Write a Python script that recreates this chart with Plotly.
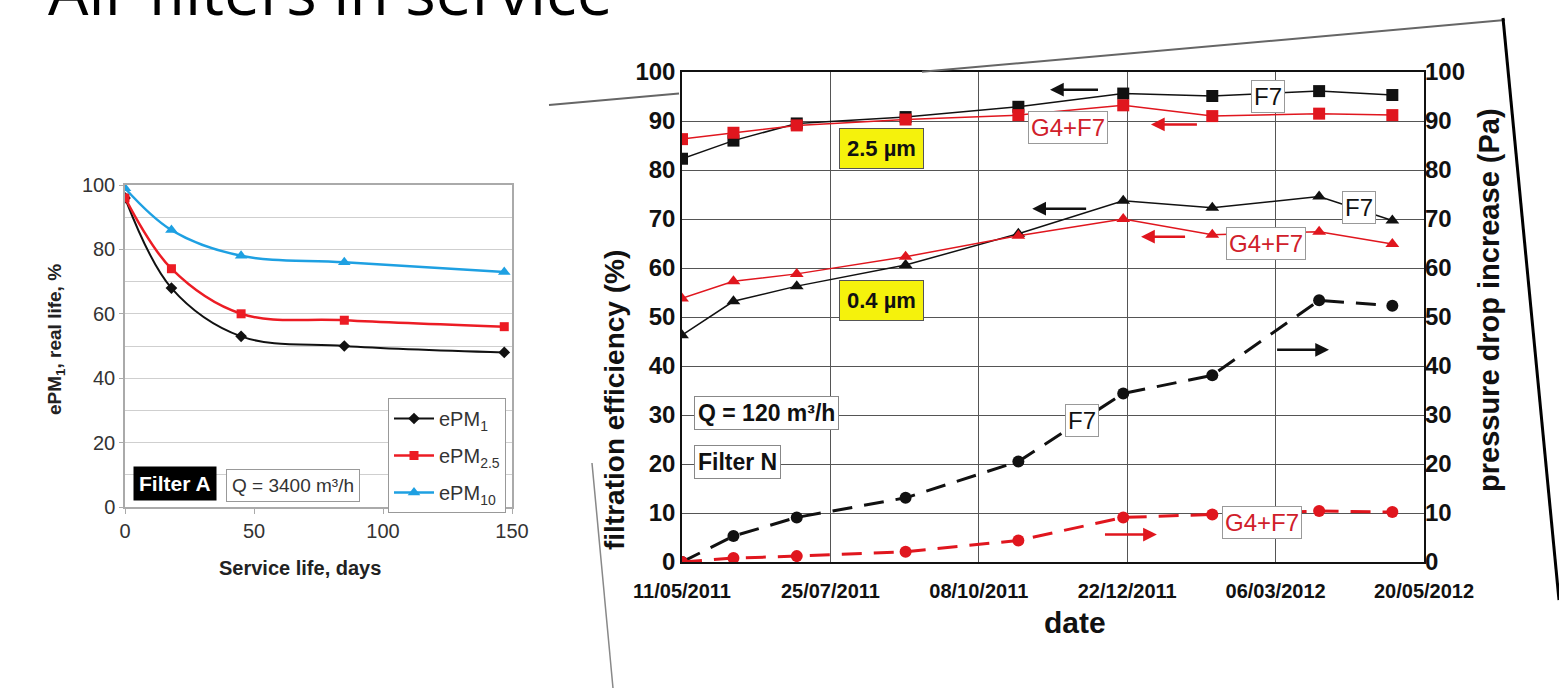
import plotly.graph_objects as go

W, H = 1559, 688
FONT = "Liberation Sans"

# ---------------- Left chart: Filter A ----------------
service_days = [0, 18, 45, 85, 147]
epm1 = [96, 68, 53, 50, 48]
epm25 = [96, 74, 60, 58, 56]
epm10 = [99, 86, 78, 76, 73]
left_xticks = [0, 50, 100, 150]

# ---------------- Right chart: Filter N ----------------
dates = ['2011-05-11', '2011-06-06', '2011-07-08', '2011-09-01', '2011-10-28',
         '2011-12-20', '2012-02-03', '2012-03-28', '2012-05-04']
f7_25 = [82.3, 86.0, 89.5, 90.8, 92.9, 95.6, 95.1, 96.1, 95.3]
g4f7_25 = [86.3, 87.6, 89.1, 90.3, 91.2, 93.2, 91.0, 91.5, 91.2]
f7_04 = [46.3, 53.2, 56.3, 60.6, 67.0, 73.7, 72.3, 74.6, 69.7]
g4f7_04 = [53.8, 57.3, 58.8, 62.3, 66.6, 70.0, 66.8, 67.4, 64.9]
f7_dp = [0, 5.3, 9.1, 13.1, 20.5, 34.4, 38.1, 53.4, 52.3]
g4f7_dp = [0, 0.8, 1.2, 2.1, 4.4, 9.1, 9.7, 10.4, 10.2]
date_ticks = ['2011-05-11', '2011-07-25', '2011-10-08', '2011-12-22', '2012-03-06', '2012-05-20']
date_ticktext = ['11/05/2011', '25/07/2011', '08/10/2011', '22/12/2011', '06/03/2012', '20/05/2012']

# labels on right chart: (text, date, value, axis, style)
right_labels = [
    ('2.5 µm', '2011-08-20', 84.3, 'y2', 'yellow'),
    ('0.4 µm', '2011-08-20', 53.3, 'y2', 'yellow'),
    ('F7', '2012-03-02', 95.1, 'y2', 'black'),
    ('G4+F7', '2011-11-22', 88.6, 'y2', 'red'),
    ('F7', '2012-04-17', 72.4, 'y2', 'black'),
    ('G4+F7', '2012-03-01', 65.0, 'y2', 'red'),
    ('F7', '2011-11-29', 28.8, 'y3', 'black'),
    ('G4+F7', '2012-02-28', 8.0, 'y3', 'red'),
]
# arrows: (head date, tail date, value, axis, colour)
right_arrows = [
    ('2011-11-13', '2011-12-08', 96.4, 'y2', '#111111'),
    ('2011-11-04', '2011-12-02', 72.1, 'y2', '#111111'),
    ('2012-01-03', '2012-01-27', 89.3, 'y2', '#e0161e'),
    ('2011-12-29', '2012-01-21', 66.4, 'y2', '#e0161e'),
    ('2012-04-02', '2012-03-06', 43.3, 'y3', '#111111'),
    ('2012-01-06', '2011-12-10', 5.6, 'y3', '#e0161e'),
]

BLACK = '#111111'
RED = '#e0161e'
LRED = '#ec1c24'
BLUE = '#1ea0e2'

fig = go.Figure()

# left chart traces
fig.add_trace(go.Scatter(x=service_days, y=epm1, mode='lines+markers', name='ePM<sub>1</sub>',
                         line=dict(color=BLACK, width=2, shape='spline'),
                         marker=dict(symbol='diamond', size=9, color=BLACK),
                         xaxis='x', yaxis='y', legendgroup='a'))
fig.add_trace(go.Scatter(x=service_days, y=epm25, mode='lines+markers', name='ePM<sub>2.5</sub>',
                         line=dict(color=LRED, width=2.5, shape='spline'),
                         marker=dict(symbol='square', size=9, color=LRED),
                         xaxis='x', yaxis='y', legendgroup='b'))
fig.add_trace(go.Scatter(x=service_days, y=epm10, mode='lines+markers', name='ePM<sub>10</sub>',
                         line=dict(color=BLUE, width=2.5, shape='spline'),
                         marker=dict(symbol='triangle-up', size=11, color=BLUE),
                         xaxis='x', yaxis='y', legendgroup='c'))

# right chart traces
def add_right(y, color, symbol, yaxis, dash='solid', width=1.5, size=12):
    fig.add_trace(go.Scatter(x=dates, y=y, mode='lines+markers', showlegend=False,
                             line=dict(color=color, width=width, dash=dash),
                             marker=dict(symbol=symbol, size=size, color=color),
                             xaxis='x2', yaxis=yaxis))

add_right(f7_25, BLACK, 'square', 'y2')
add_right(g4f7_25, RED, 'square', 'y2')
add_right(f7_04, BLACK, 'triangle-up', 'y2')
add_right(g4f7_04, RED, 'triangle-up', 'y2')
add_right(f7_dp, BLACK, 'circle', 'y3', dash='20px,12px', width=3)
add_right(g4f7_dp, RED, 'circle', 'y3', dash='20px,12px', width=3)

def px_x(p):
    return p / W

def px_y(p):
    return 1 - p / H

annotations = []
# slide title (partly cut off at the top, as in the slide)
annotations.append(dict(text='Air filters in service', xref='paper', yref='paper',
                        x=px_x(330), y=px_y(36), xanchor='center', yanchor='bottom',
                        showarrow=False, font=dict(family='Open Sans', size=64, color='black')))

# left chart labels
annotations.append(dict(text='<b>ePM<sub>1</sub>, real life, %</b>', xref='paper', yref='paper',
                        x=px_x(56), y=px_y(340), xanchor='center', yanchor='middle',
                        textangle=-90, showarrow=False,
                        font=dict(family=FONT, size=19, color='#222')))
annotations.append(dict(text='<b>Service life, days</b>', xref='paper', yref='paper',
                        x=px_x(300), y=px_y(568), xanchor='center', yanchor='middle',
                        showarrow=False, font=dict(family=FONT, size=20, color='#222')))
annotations.append(dict(text='<b>Filter A</b>', xref='x', yref='y', x=3, y=2, xanchor='left',
                        yanchor='bottom', showarrow=False, bgcolor='black', borderpad=5,
                        font=dict(family=FONT, size=21, color='white')))
annotations.append(dict(text='Q = 3400 m³/h', xref='x', yref='y', x=39, y=1.5, xanchor='left',
                        yanchor='bottom', showarrow=False, bgcolor='white', bordercolor='#999',
                        borderwidth=1, borderpad=5, font=dict(family=FONT, size=19, color='#333')))

# right chart axis titles
annotations.append(dict(text='<b>filtration efficiency (%)</b>', xref='paper', yref='paper',
                        x=px_x(614), y=px_y(400), xanchor='center', yanchor='middle',
                        textangle=-90, showarrow=False,
                        font=dict(family=FONT, size=28, color='#111')))
annotations.append(dict(text='<b>pressure drop increase (Pa)</b>', xref='paper', yref='paper',
                        x=px_x(1489), y=px_y(300), xanchor='center', yanchor='middle',
                        textangle=-90, showarrow=False,
                        font=dict(family=FONT, size=29, color='#111')))
annotations.append(dict(text='<b>date</b>', xref='paper', yref='paper',
                        x=px_x(1075), y=px_y(622), xanchor='center', yanchor='middle',
                        showarrow=False, font=dict(family=FONT, size=30, color='#111')))

# right chart boxes
annotations.append(dict(text='<b>Q = 120 m³/h</b>', xref='x2', yref='y2', x='2011-05-17', y=30.5,
                        xanchor='left', yanchor='middle', showarrow=False, bgcolor='white',
                        bordercolor='#888', borderwidth=1, borderpad=3,
                        font=dict(family=FONT, size=23, color='#111')))
annotations.append(dict(text='<b>Filter N</b>', xref='x2', yref='y2', x='2011-05-17', y=20.5,
                        xanchor='left', yanchor='middle', showarrow=False, bgcolor='white',
                        bordercolor='#888', borderwidth=1, borderpad=3,
                        font=dict(family=FONT, size=23, color='#111')))
for text, d, v, ax_, style in right_labels:
    if style == 'yellow':
        annotations.append(dict(text='<b>' + text + '</b>', xref='x2', yref=ax_, x=d, y=v,
                                xanchor='center', yanchor='middle',
                                showarrow=False, bgcolor='#f5f20c', bordercolor='#555',
                                borderwidth=1, borderpad=7,
                                font=dict(family=FONT, size=22, color='#111')))
    else:
        col = '#111' if style == 'black' else '#d0202a'
        annotations.append(dict(text=text, xref='x2', yref=ax_, x=d, y=v, showarrow=False,
                                xanchor='center', yanchor='middle',
                                bgcolor='white', bordercolor='#999', borderwidth=1, borderpad=2,
                                font=dict(family=FONT, size=24, color=col)))
for head, tail, v, ax_, col in right_arrows:
    annotations.append(dict(text='', xref='x2', yref=ax_, x=head, y=v, axref='x2', ayref=ax_,
                            ax=tail, ay=v, showarrow=True, arrowhead=2, arrowsize=1.1,
                            arrowwidth=2.5, arrowcolor=col, standoff=0, startstandoff=0))

# frame lines of the pasted picture (top edge split so it passes behind the chart)
shapes = [
    dict(type='line', xref='paper', yref='paper', x0=px_x(549), y0=px_y(105), x1=px_x(679),
         y1=px_y(93.4), line=dict(color='#666', width=2)),
    dict(type='line', xref='paper', yref='paper', x0=px_x(922), y0=px_y(71.8), x1=px_x(1505),
         y1=px_y(20), line=dict(color='#666', width=2)),
    dict(type='line', xref='paper', yref='paper', x0=px_x(1503), y0=px_y(18), x1=px_x(1559),
         y1=px_y(600), line=dict(color='black', width=3)),
    dict(type='line', xref='paper', yref='paper', x0=px_x(592), y0=px_y(463), x1=px_x(613),
         y1=0, line=dict(color='#888', width=1.5)),
]

tick_l = dict(family=FONT, size=20, color='#333')
tick_r = dict(family=FONT, size=24, color='#111', weight='bold')

fig.update_layout(
    width=W, height=H, margin=dict(l=0, r=0, t=0, b=0, autoexpand=False),
    paper_bgcolor='white', plot_bgcolor='white',
    annotations=annotations, shapes=shapes,
    legend=dict(x=px_x(388), y=px_y(398), xanchor='left', yanchor='top', bgcolor='white',
                bordercolor='#999', borderwidth=1, tracegroupgap=8, itemwidth=40,
                font=dict(family=FONT, size=20, color='#333')),
    xaxis=dict(domain=[px_x(125), px_x(512)], range=[0, 150], tickvals=left_xticks,
               showgrid=False, automargin=False,
               showline=True, linecolor='#aaa', linewidth=1.5, mirror=True, ticks='outside',
               ticklen=5, tickcolor='#aaa', tickfont=tick_l, zeroline=False, anchor='y'),
    yaxis=dict(domain=[px_y(507), px_y(185)], range=[0, 100], tick0=0, dtick=20,
               showgrid=True, gridcolor='#cfcfcf', automargin=False,
               minor=dict(dtick=10, showgrid=True, gridcolor='#cfcfcf'),
               showline=True, linecolor='#aaa', linewidth=1.5, mirror=True, ticks='outside',
               ticklen=4, tickcolor='#aaa', tickfont=tick_l, zeroline=False, anchor='x'),
    xaxis2=dict(domain=[px_x(682), px_x(1424)], type='date', range=['2011-05-11', '2012-05-20'],
                tickvals=date_ticks, ticktext=date_ticktext, showgrid=True, gridcolor='#555',
                showline=True, linecolor='#111', linewidth=1.5, mirror=True, ticks='',
                automargin=False, ticklabelstandoff=10,
                tickfont=dict(family=FONT, size=20, color='#111', weight='bold'),
                zeroline=False, anchor='y2'),
    yaxis2=dict(domain=[px_y(562), px_y(72)], range=[0, 100], tick0=0, dtick=10,
                showgrid=True, gridcolor='#555', showline=True, linecolor='#111', linewidth=1.5,
                mirror=True, ticks='', tickfont=tick_r, zeroline=False, anchor='x2',
                automargin=False),
    yaxis3=dict(overlaying='y2', side='right', range=[0, 100], tick0=0, dtick=10,
                showgrid=False, showline=False, ticks='', tickfont=tick_r, zeroline=False,
                anchor='x2', automargin=False),
)

fig.write_html('out.html')
